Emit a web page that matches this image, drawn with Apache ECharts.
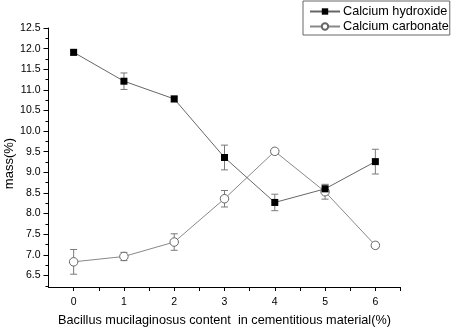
<!DOCTYPE html>
<html lang="en">
<head>
	<meta charset="UTF-8">
	<title>mass</title>
	<style>
       html,body{margin:0;padding:0;background:#fff;}
       #chart_box{
       	width: 454px;
       	height: 328px;
       }
	</style>
	<script type="text/javascript" src="https://cdn.jsdelivr.net/npm/echarts@6/dist/echarts.min.js"></script>
</head>
<body>
	<div id="chart_box"></div>
	<script type="text/javascript">
      // data
      var categories = [0, 1, 2, 3, 4, 5, 6];
      var hydroxide = [11.91, 11.21, 10.78, 9.36, 8.27, 8.60, 9.26];
      var hydroxideErr = [0.07, 0.20, 0.07, 0.30, 0.20, 0.09, 0.30];
      var carbonate = [6.83, 6.96, 7.31, 8.36, 9.51, 8.53, 7.23];
      var carbonateErr = [0.30, 0.10, 0.20, 0.20, 0.06, 0.18, 0.07];
      var yTicks = [6.5, 7.0, 7.5, 8.0, 8.5, 9.0, 9.5, 10.0, 10.5, 11.0, 11.5, 12.0, 12.5];
      var yMinorTicks = [6.25, 6.75, 7.25, 7.75, 8.25, 8.75, 9.25, 9.75, 10.25, 10.75, 11.25, 11.75, 12.25];
      var xTicks = [0, 0.5, 1, 1.5, 2, 2.5, 3, 3.5, 4, 4.5, 5, 5.5, 6, 6.5];
      var names = ['Calcium hydroxide', 'Calcium carbonate'];

      var toPairs = function(vals){
          var out = [];
          for (var i = 0; i < categories.length; i++) out.push([categories[i], vals[i]]);
          return out;
      };
      var errPairs = function(vals, errs){
          var out = [];
          for (var i = 0; i < categories.length; i++) out.push([categories[i], vals[i] - errs[i], vals[i] + errs[i]]);
          return out;
      };

      // error bar with caps
      var errorItem = function(params, api){
          var lo = api.coord([api.value(0), api.value(1)]);
          var hi = api.coord([api.value(0), api.value(2)]);
          var w = 3.5;
          var st = {stroke: '#7a7a7a', lineWidth: 1};
          return {
              type: 'group',
              children: [
                  {type: 'line', shape: {x1: lo[0], y1: lo[1], x2: hi[0], y2: hi[1]}, style: st},
                  {type: 'line', shape: {x1: lo[0] - w, y1: lo[1], x2: lo[0] + w, y2: lo[1]}, style: st},
                  {type: 'line', shape: {x1: hi[0] - w, y1: hi[1], x2: hi[0] + w, y2: hi[1]}, style: st}
              ]
          };
      };

      var chart = echarts.init(document.getElementById('chart_box'));
      var font = 'Liberation Sans, Arial, sans-serif';
      var option = {
          animation: false,
          textStyle: {fontFamily: font},
          grid: {left: 48.5, right: 53.5, top: 28, bottom: 41, outerBoundsMode: 'none', containLabel: false},
          legend: {
              data: names,
              orient: 'vertical',
              left: 303,
              top: 1,
              padding: [4, 1, 2, 6],
              itemGap: 2,
              itemWidth: 30,
              itemHeight: 8,
              borderColor: '#666',
              borderWidth: 1,
              textStyle: {fontFamily: font, fontSize: 12.7, color: '#000', padding: [0, 0, 0, -2]}
          },
          xAxis: [{
              type: 'value',
              min: -0.5,
              max: 6.5,
              name: 'Bacillus mucilaginosus content  in cementitious material(%)',
              nameLocation: 'middle',
              nameGap: 27,
              nameMoveOverlap: false,
              nameTextStyle: {fontFamily: font, fontSize: 12.7, color: '#000'},
              splitLine: {show: false},
              axisLine: {onZero: false, lineStyle: {color: '#000', width: 1}},
              axisTick: {customValues: xTicks, length: 4, lineStyle: {color: '#000'}},
              axisLabel: {customValues: categories, fontSize: 10.5, color: '#000', margin: 10}
          }],
          yAxis: [{
              type: 'value',
              min: 6.22,
              max: 12.5,
              name: 'mass(%)',
              nameLocation: 'middle',
              nameGap: 33,
              nameMoveOverlap: false,
              nameTextStyle: {fontFamily: font, fontSize: 13, color: '#000', padding: [0, 0, 0, -12]},
              splitLine: {show: false},
              axisLine: {show: true, onZero: false, lineStyle: {color: '#000', width: 1}},
              axisTick: {customValues: yTicks, length: 5, lineStyle: {color: '#000'}},
              axisLabel: {customValues: yTicks, fontSize: 10.5, color: '#000', margin: 8,
                          formatter: function(v){ return v.toFixed(1); }}
          }, {
              type: 'value',
              min: 6.22,
              max: 12.5,
              position: 'left',
              splitLine: {show: false},
              axisLine: {show: false, onZero: false},
              axisTick: {customValues: yMinorTicks, length: 3, lineStyle: {color: '#000'}},
              axisLabel: {show: false}
          }],
          series: [
              {
                  type: 'custom',
                  name: 'errH',
                  renderItem: errorItem,
                  data: errPairs(hydroxide, hydroxideErr),
                  z: 1,
                  silent: true
              },
              {
                  type: 'custom',
                  name: 'errC',
                  renderItem: errorItem,
                  data: errPairs(carbonate, carbonateErr),
                  z: 1,
                  silent: true
              },
              {
                  name: names[0],
                  type: 'line',
                  data: toPairs(hydroxide),
                  symbol: 'rect',
                  symbolSize: 7,
                  itemStyle: {color: '#000'},
                  lineStyle: {color: '#666', width: 1},
                  z: 3
              },
              {
                  name: names[1],
                  type: 'line',
                  data: toPairs(carbonate),
                  symbol: 'circle',
                  symbolSize: 8.5,
                  itemStyle: {color: '#fff', borderColor: '#666', borderWidth: 1},
                  lineStyle: {color: '#888', width: 1},
                  z: 2
              }
          ]
      };
      chart.setOption(option);
	</script>
</body>
</html>
